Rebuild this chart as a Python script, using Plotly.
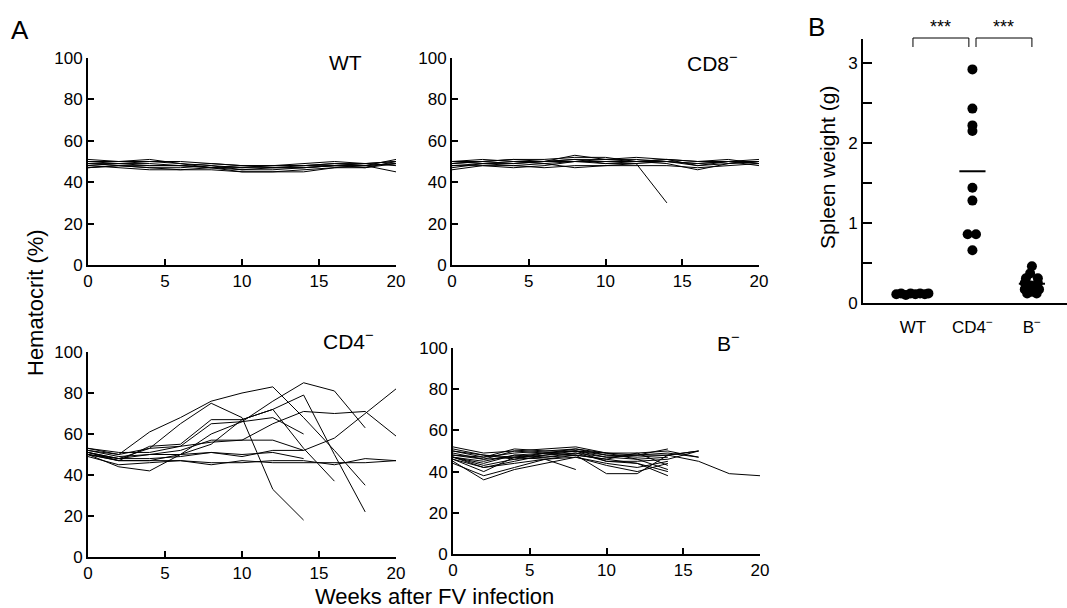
import numpy as np
import plotly.graph_objects as go

# Semanas de muestreo (cada 2 semanas).
weeks = [0, 2, 4, 6, 8, 10, 12, 14, 16, 18, 20]

# Hematocrito (%) por ratón, grupo WT.
wt_lines = [
    [51, 50, 50, 50, 49, 48, 48, 48, 49, 49, 50],
    [50, 50, 51, 49, 48, 47, 47, 47, 48, 48, 49],
    [49, 49, 50, 49, 47, 46, 47, 48, 48, 49, 50],
    [48, 49, 48, 48, 47, 48, 48, 48, 49, 48, 51],
    [47, 48, 47, 46, 47, 45, 45, 46, 47, 48, 45],
    [49, 48, 47, 47, 48, 46, 46, 47, 48, 47, 49],
    [50, 49, 49, 48, 47, 47, 48, 49, 50, 49, 48],
    [48, 47, 46, 46, 46, 45, 45, 45, 47, 47, 50],
    [47, 48, 48, 48, 49, 48, 47, 47, 48, 48, 49],
]

# Grupo CD8-.
cd8_lines = [
    [49, 50, 51, 50, 53, 51, 51, 50, 49, 50, 50],
    [50, 51, 50, 50, 51, 51, 52, 51, 50, 50, 49],
    [47, 49, 48, 49, 47, 48, 49, 50, 48, 49, 50],
    [48, 48, 47, 48, 50, 50, 50, 50, 49, 50, 48],
    [50, 49, 50, 49, 50, 49, 50, 49, 46, 49, 50],
    [49, 50, 51, 51, 52, 52, 50, 51, 50, 51, 49],
    [46, 48, 48, 47, 48, 48, 48, 48, 47, 48, 49],
    [48, 49, 49, 50, 50, 51, 50, 51, 48, 50, 51],
    [50, 50, 49, 50, 51, 49, 49, 30],
]

# Grupo CD4-.
cd4_lines = [
    [51, 48, 53, 65, 75, 68, 33, 18],
    [53, 50, 61, 68, 76, 80, 83, 68, 52, 35],
    [50, 48, 50, 50, 55, 67, 72, 79, 50, 22],
    [51, 47, 47, 50, 60, 66, 76, 85, 81, 63],
    [52, 49, 50, 52, 57, 57, 65, 71, 70, 71, 59],
    [51, 48, 48, 49, 51, 49, 52, 52, 58, 70, 82],
    [50, 47, 54, 55, 67, 67, 72, 53, 37],
    [53, 51, 51, 54, 65, 66, 68, 60],
    [49, 45, 46, 47, 46, 46, 47, 47, 45, 48, 47],
    [50, 47, 47, 47, 45, 47, 46, 46, 46, 46, 47],
    [50, 44, 42, 50, 51, 50, 51, 48],
    [52, 50, 53, 54, 56, 57, 57, 52],
]

# Grupo B-.
b_lines = [
    [48, 46, 50, 49, 50, 47, 48, 51],
    [47, 44, 48, 49, 51, 48, 47, 48, 50],
    [46, 40, 47, 48, 49, 45, 44, 40],
    [45, 36, 41, 44, 47, 43, 40, 44],
    [44, 38, 42, 46, 41],
    [50, 47, 51, 50, 50, 48, 48, 48, 45, 39, 38],
    [47, 42, 44, 46, 48, 39, 39, 48, 50],
    [51, 48, 47, 49, 50, 49, 48, 49, 47],
    [47, 43, 46, 47, 48, 46, 44, 38],
    [48, 47, 49, 50, 51, 49, 46, 41],
    [52, 49, 50, 51, 52, 49, 49, 50, 47],
    [46, 42, 45, 48, 50, 45, 45, 46, 50],
    [49, 46, 47, 46, 47, 44, 42, 45],
    [47, 45, 48, 47, 49, 47, 46, 47],
    [50, 48, 46, 49, 48, 46, 49, 43],
]

# Peso del bazo (g).
spleen_groups = ["WT", "CD4<sup>−</sup>", "B<sup>−</sup>"]
spleen_wt = [0.11, 0.12, 0.10, 0.12, 0.11, 0.12, 0.11, 0.12]
spleen_wt_offset = [-0.28, -0.2, -0.12, -0.04, 0.04, 0.12, 0.2, 0.26]
spleen_cd4 = [2.92, 2.43, 2.22, 2.15, 1.44, 1.28, 0.86, 0.86, 0.66]
spleen_cd4_offset = [0, 0, 0, 0, 0, 0, -0.08, 0.06, 0]
spleen_b = [0.46, 0.37, 0.31, 0.31, 0.25, 0.25, 0.22, 0.17, 0.17, 0.12, 0.12, 0.14]
spleen_b_offset = [0, -0.03, -0.1, 0.1, -0.12, 0.1, -0.02, -0.12, 0.12, -0.08, 0.08, 0.0]

W, H = 1067, 608
FONT = "Liberation Sans, Arial, sans-serif"


def px_x(p):
    return p / W


def px_y(p):
    return 1 - p / H


fig = go.Figure()

panels = [
    (wt_lines, "x", "y"),
    (cd8_lines, "x2", "y2"),
    (cd4_lines, "x3", "y3"),
    (b_lines, "x4", "y4"),
]

for lines, xa, ya in panels:
    for v in lines:
        fig.add_trace(
            go.Scatter(
                x=weeks[:len(v)],
                y=v,
                mode="lines",
                line=dict(color="black", width=1),
                xaxis=xa,
                yaxis=ya,
                showlegend=False,
                hoverinfo="skip",
            )
        )

# Panel B: puntos y medias.
groups = [
    (spleen_wt, spleen_wt_offset),
    (spleen_cd4, spleen_cd4_offset),
    (spleen_b, spleen_b_offset),
]
for i, (vals, offs) in enumerate(groups):
    fig.add_trace(
        go.Scatter(
            x=[i + o for o in offs],
            y=vals,
            mode="markers",
            marker=dict(color="black", size=10),
            xaxis="x5",
            yaxis="y5",
            showlegend=False,
            cliponaxis=False,
        )
    )
    m = float(np.mean(vals))
    fig.add_trace(
        go.Scatter(
            x=[i - 0.22, i + 0.22],
            y=[m, m],
            mode="lines",
            line=dict(color="black", width=2),
            xaxis="x5",
            yaxis="y5",
            showlegend=False,
        )
    )

axis_common = dict(
    showline=True,
    linecolor="black",
    linewidth=2,
    ticks="inside",
    ticklen=6,
    tickwidth=1.5,
    tickcolor="black",
    showgrid=False,
    zeroline=False,
    automargin=False,
    tickfont=dict(size=17, color="black"),
)

domains = {
    "": ([88, 396], [58, 265]),
    "2": ([452, 759], [58, 265]),
    "3": ([88, 396], [352, 557]),
    "4": ([453, 760], [348, 554]),
}

layout = dict()
for k, (dx, dy) in domains.items():
    layout["xaxis" + k] = dict(
        axis_common,
        domain=[px_x(dx[0]), px_x(dx[1])],
        range=[0, 20],
        tickvals=[0, 5, 10, 15, 20],
        anchor="y" + k,
    )
    layout["yaxis" + k] = dict(
        axis_common,
        domain=[px_y(dy[1]), px_y(dy[0])],
        range=[0, 100],
        tickvals=[0, 20, 40, 60, 80, 100],
        anchor="x" + k,
    )

layout["xaxis5"] = dict(
    axis_common,
    domain=[px_x(863), 1.0],
    range=[-0.84, 2.59],
    tickvals=[0, 1, 2],
    ticktext=spleen_groups,
    ticks="",
    ticklabelstandoff=8,
    anchor="y5",
)
layout["yaxis5"] = dict(
    axis_common,
    domain=[px_y(303), px_y(39)],
    range=[0, 3.3],
    tickvals=[0, 0.5, 1, 1.5, 2, 2.5, 3],
    ticktext=["0", "", "1", "", "2", "", "3"],
    ticklen=9,
    anchor="x5",
)

annotations = [
    dict(x=px_x(20), y=px_y(30), text="A", font_size=26),
    dict(x=px_x(816), y=px_y(27), text="B", font_size=26),
    dict(x=px_x(35), y=px_y(303), text="Hematocrit (%)", textangle=-90, font_size=22),
    dict(x=px_x(434), y=px_y(596), text="Weeks after FV infection", font_size=22),
    dict(x=px_x(827), y=px_y(168), text="Spleen weight (g)", textangle=-90, font_size=21),
    dict(x=px_x(345), y=px_y(62), text="WT", font_size=21),
    dict(x=px_x(712), y=px_y(62), text="CD8<sup>−</sup>", font_size=21),
    dict(x=px_x(348), y=px_y(340), text="CD4<sup>−</sup>", font_size=21),
    dict(x=px_x(728), y=px_y(342), text="B<sup>−</sup>", font_size=21),
    dict(x=0.47, y=px_y(27), xref="x5", text="***", font_size=18),
    dict(x=1.53, y=px_y(27), xref="x5", text="***", font_size=18),
]
for a in annotations:
    a.setdefault("xref", "paper")
    a.setdefault("yref", "paper")
    a.update(showarrow=False, xanchor="center", yanchor="middle")
    a["font"] = dict(size=a.pop("font_size"), color="black", family=FONT)

# Corchetes de significancia.
shapes = []
for x0, x1 in [(0, 0.94), (1.06, 2.0)]:
    shapes.append(
        dict(
            type="path",
            xref="x5",
            yref="paper",
            path=f"M {x0},{px_y(47)} L {x0},{px_y(38)} L {x1},{px_y(38)} L {x1},{px_y(47)}",
            line=dict(color="black", width=1),
        )
    )

fig.update_layout(
    layout,
    width=W,
    height=H,
    autosize=False,
    margin=dict(l=0, r=0, t=0, b=0, pad=0),
    paper_bgcolor="white",
    plot_bgcolor="white",
    font=dict(family=FONT, color="black"),
    annotations=annotations,
    shapes=shapes,
    showlegend=False,
)

# Quitamos el margen por defecto del body para que la figura empiece en (0, 0).
fig.write_html(
    "out.html",
    config={"displayModeBar": False},
    post_script="document.body.style.margin='0';document.body.style.overflow='hidden';",
)
